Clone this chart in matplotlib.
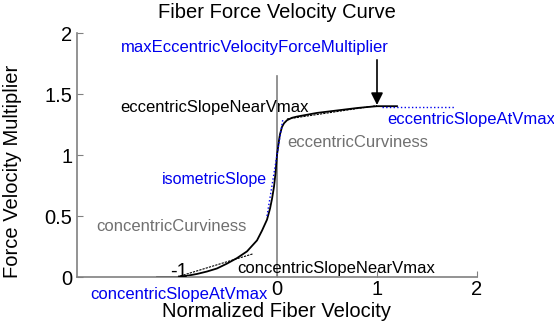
import matplotlib
matplotlib.use('Agg')
import matplotlib.pyplot as plt

plt.rcParams['font.family'] = ['Liberation Sans', 'DejaVu Sans']

# curve
fv_x = [-1.2, -1.0, -0.9, -0.8, -0.7, -0.6, -0.5, -0.4, -0.3, -0.2, -0.15, -0.1,
        -0.07, -0.05, -0.03, -0.015, 0.0, 0.01, 0.02, 0.03, 0.05, 0.07, 0.1, 0.15,
        0.2, 0.3, 0.4, 0.5, 0.6, 0.7, 0.8, 0.9, 1.0, 1.2]
fv_y = [0.0, 0.0, 0.01, 0.025, 0.045, 0.07, 0.11, 0.155, 0.21, 0.30, 0.38, 0.47,
        0.56, 0.64, 0.74, 0.85, 1.0, 1.06, 1.12, 1.17, 1.23, 1.26, 1.285, 1.305,
        1.315, 1.33, 1.345, 1.355, 1.365, 1.375, 1.385, 1.393, 1.40, 1.40]

# helper slope lines (x pair, y pair)
conc_vmax_x, conc_vmax_y = [-1.77, -1.02], [-0.01, -0.01]
conc_near_x, conc_near_y = [-1.0, -0.24], [0.0, 0.19]
iso_x, iso_y = [-0.1, 0.06], [0.5, 1.3]
ecc_near_x, ecc_near_y = [0.1, 1.0], [1.295, 1.405]
ecc_vmax_x, ecc_vmax_y = [1.05, 1.78], [1.39, 1.39]
vline_x, vline_y = [0, 0], [0, 1.65]
arrow_start, arrow_end = (1.0, 1.78), (1.0, 1.41)

xticks = [0, 1, 2]
yticks = [0, 0.5, 1, 1.5, 2]

blue = '#0000ee'
gray = '#707070'

fig = plt.figure(figsize=(5.54, 3.3), dpi=100)
ax = fig.add_axes([0.139, 0.1606, 0.722, 0.7394])

ax.plot(vline_x, vline_y, color='#808080', lw=1.2)
ax.plot(fv_x, fv_y, color='black', lw=1.3)
ax.plot(conc_vmax_x, conc_vmax_y, ':', color=blue, lw=1)
ax.plot(conc_near_x, conc_near_y, '--', color='black', lw=0.8, dashes=(2, 1))
ax.plot(iso_x, iso_y, ':', color=blue, lw=1)
ax.plot(ecc_near_x, ecc_near_y, '--', color='black', lw=0.8, dashes=(2, 1))
ax.plot(ecc_vmax_x, ecc_vmax_y, ':', color=blue, lw=1)
ax.annotate('', xy=arrow_end, xytext=arrow_start,
            arrowprops=dict(arrowstyle='-|>', color='black', lw=1.2,
                            mutation_scale=18, shrinkA=0, shrinkB=0))

fs = 12
ax.text(-0.22, 1.885, 'maxEccentricVelocityForceMultiplier', color=blue,
        fontsize=fs, ha='center', va='center')
ax.text(-1.57, 1.39, 'eccentricSlopeNearVmax', color='black', fontsize=fs, va='center')
ax.text(1.10, 1.29, 'eccentricSlopeAtVmax', color=blue, fontsize=fs, va='center')
ax.text(0.10, 1.10, 'eccentricCurviness', color=gray, fontsize=fs, va='center')
ax.text(-1.15, 0.80, 'isometricSlope', color=blue, fontsize=11.5, va='center')
ax.text(-1.81, 0.41, 'concentricCurviness', color=gray, fontsize=fs, va='center')
ax.text(-1.07, 0.045, '-1', color='black', fontsize=14.5, va='center')
ax.text(-0.40, 0.07, 'concentricSlopeNearVmax', color='black', fontsize=fs, va='center')
ax.text(-1.87, -0.14, 'concentricSlopeAtVmax', color=blue, fontsize=fs, va='center')

ax.set_xlim(-2, 2)
ax.set_ylim(0, 2)
ax.set_xticks(xticks)
ax.set_yticks(yticks)
ax.set_xticklabels([str(t) for t in xticks])
ax.set_yticklabels(['0', '0.5', '1', '1.5', '2'])
ax.tick_params(direction='in', labelsize=14.5, color='#808080', length=4)
ax.tick_params(axis='x', pad=2)
for s in ['top', 'right']:
    ax.spines[s].set_visible(False)
for s in ['left', 'bottom']:
    ax.spines[s].set_color('#808080')
    ax.spines[s].set_linewidth(1.2)

ax.set_title('Fiber Force Velocity Curve', fontsize=14.5, pad=11)
ax.set_xlabel('Normalized Fiber Velocity', fontsize=14.5, labelpad=2)
ax.set_ylabel('Force Velocity Multiplier', fontsize=14.5)
ax.yaxis.set_label_coords(-0.1375, 0.434)

fig.savefig('out.png', dpi=100)
